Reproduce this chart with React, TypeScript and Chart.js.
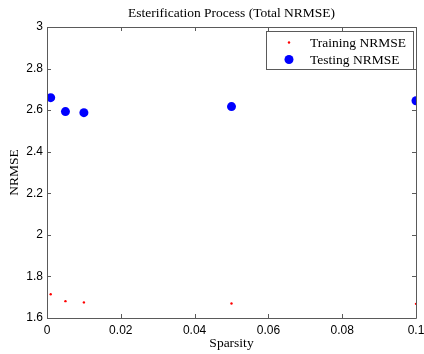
import React, { useEffect, useRef } from "react";
import { Chart, registerables } from "chart.js";

Chart.register(...registerables);

const sparsity = [0.001, 0.005, 0.01, 0.05, 0.1];
const trainingNRMSE = [1.714, 1.681, 1.675, 1.67, 1.668];
const testingNRMSE = [2.66, 2.593, 2.588, 2.617, 2.645];
const xTicks = [0, 0.02, 0.04, 0.06, 0.08, 0.1];
const yTicks = [1.6, 1.8, 2, 2.2, 2.4, 2.6, 2.8, 3];

const SERIF = "'Liberation Serif', 'Times New Roman', serif";
const SANS = "'Liberation Sans', Arial, sans-serif";

const boxPlugin = {
  id: "matlabBox",
  afterDatasetsDraw(chart: any) {
    const { ctx, chartArea: a, scales } = chart;
    ctx.save();
    ctx.strokeStyle = "#5a5a5a";
    ctx.lineWidth = 1;
    ctx.beginPath();
    ctx.rect(Math.round(a.left) + 0.5, Math.round(a.top) + 0.5, Math.round(a.right - a.left), Math.round(a.bottom - a.top));
    ctx.stroke();
    const tl = 4;
    ctx.beginPath();
    for (const v of xTicks) {
      const x = Math.round(scales.x.getPixelForValue(v)) + 0.5;
      ctx.moveTo(x, a.bottom);
      ctx.lineTo(x, a.bottom - tl);
      ctx.moveTo(x, a.top);
      ctx.lineTo(x, a.top + tl);
    }
    for (const v of yTicks) {
      const y = Math.round(scales.y.getPixelForValue(v)) + 0.5;
      ctx.moveTo(a.left, y);
      ctx.lineTo(a.left + tl, y);
      ctx.moveTo(a.right, y);
      ctx.lineTo(a.right - tl, y);
    }
    ctx.stroke();

    // legend
    const lx = 266.5, ly = 31.5, lw = 147, lh = 38;
    ctx.fillStyle = "#ffffff";
    ctx.fillRect(lx, ly, lw, lh);
    ctx.strokeStyle = "#5a5a5a";
    ctx.strokeRect(lx, ly, lw, lh);
    ctx.font = "13.5px " + SERIF;
    ctx.textBaseline = "middle";
    ctx.textAlign = "left";
    chart.data.datasets.forEach((ds: any, i: number) => {
      const cy = ly + 11 + i * 17;
      ctx.fillStyle = ds.backgroundColor;
      ctx.beginPath();
      ctx.arc(lx + 22.5, cy, ds.pointRadius, 0, Math.PI * 2);
      ctx.fill();
      ctx.fillStyle = "#000";
      ctx.fillText(ds.label, lx + 43.5, cy + 1);
    });
    ctx.restore();
  },
};

export default function App() {
  const ref = useRef<HTMLCanvasElement | null>(null);
  useEffect(() => {
    if (!ref.current) return;
    const chart = new Chart(ref.current, {
      type: "scatter",
      data: {
        datasets: [
          {
            label: "Training NRMSE",
            data: sparsity.map((x, i) => ({ x, y: trainingNRMSE[i] })),
            backgroundColor: "#ff0000",
            borderColor: "#ff0000",
            pointRadius: 1.2,
            pointBorderWidth: 0,
          },
          {
            label: "Testing NRMSE",
            data: sparsity.map((x, i) => ({ x, y: testingNRMSE[i] })),
            backgroundColor: "#0000ff",
            borderColor: "#0000ff",
            pointRadius: 4.5,
            pointBorderWidth: 0,
          },
        ],
      },
      options: {
        animation: false,
        responsive: false,
        layout: { padding: { left: 0, right: 8, top: 0, bottom: 0 } },
        plugins: {
          legend: { display: false },
          tooltip: { enabled: false },
          title: {
            display: true,
            text: "Esterification Process (Total NRMSE)",
            fullSize: false,
            color: "#000",
            font: { family: SERIF, size: 13.5, weight: "normal" },
            padding: { top: 5, bottom: 5.8 },
          },
        },
        scales: {
          x: {
            type: "linear",
            min: 0,
            max: 0.1,
            afterFit: (s: any) => {
              s.height = 36;
              s.paddingLeft = 0;
              s.paddingRight = 0;
            },
            grid: { display: false, drawTicks: false },
            border: { display: false },
            ticks: {
              stepSize: 0.02,
              color: "#000",
              font: { family: SANS, size: 12 },
              padding: 5,
              maxRotation: 0,
              callback: (v: any) => String(+Number(v).toFixed(2)),
            },
            title: {
              display: true,
              text: "Sparsity",
              color: "#000",
              font: { family: SERIF, size: 13.5 },
              padding: { top: 0, bottom: 2 },
            },
          },
          y: {
            type: "linear",
            min: 1.6,
            max: 3,
            afterFit: (s: any) => {
              s.width = 47;
              s.paddingTop = 0;
              s.paddingBottom = 0;
            },
            grid: { display: false, drawTicks: false },
            border: { display: false },
            ticks: {
              stepSize: 0.2,
              color: "#000",
              font: { family: SANS, size: 12 },
              padding: 4,
              callback: (v: any) => String(+Number(v).toFixed(2)),
            },
            title: {
              display: true,
              text: "NRMSE",
              color: "#000",
              font: { family: SERIF, size: 13.5 },
              padding: { top: 6, bottom: 0 },
            },
          },
        },
      },
      plugins: [boxPlugin],
    });
    return () => chart.destroy();
  }, []);
  return (
    <div style={{ position: "absolute", left: 0, top: 0, width: 424, height: 354, background: "#fff" }}>
      <canvas ref={ref} width={424} height={354} style={{ width: 424, height: 354 }} />
    </div>
  );
}
